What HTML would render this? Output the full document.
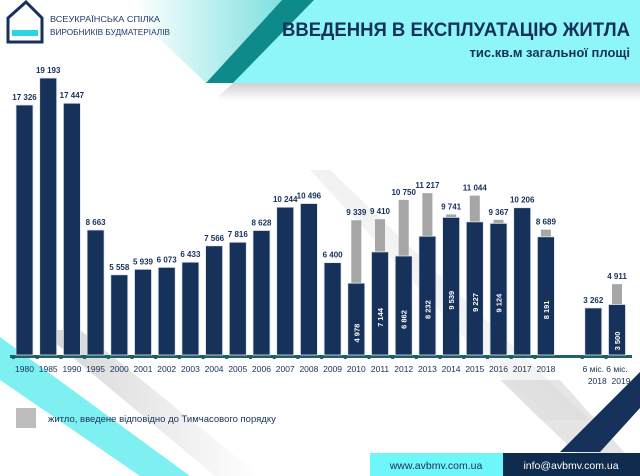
<!DOCTYPE html>
<html><head><meta charset="utf-8">
<style>
html,body{margin:0;padding:0;background:#fff;}
svg{display:block;font-family:"Liberation Sans","DejaVu Sans",sans-serif;}
</style></head><body>
<svg width="640" height="476" viewBox="0 0 640 476" xmlns="http://www.w3.org/2000/svg">
<defs>
<linearGradient id="hg" x1="0" y1="0" x2="1" y2="0">
<stop offset="0" stop-color="#ffffff"/><stop offset="1" stop-color="#7fe0e0"/></linearGradient>
<linearGradient id="sh" x1="1" y1="0" x2="0" y2="1">
<stop offset="0" stop-color="#8a8a8a" stop-opacity="0.7"/><stop offset="1" stop-color="#ffffff" stop-opacity="0"/></linearGradient>
<linearGradient id="gs" x1="0" y1="0" x2="1" y2="0">
<stop offset="0" stop-color="#cfcfcf"/><stop offset="1" stop-color="#ffffff"/></linearGradient>
<linearGradient id="hs" x1="0" y1="0" x2="0" y2="1">
<stop offset="0" stop-color="#bbbbbb"/><stop offset="1" stop-color="#ffffff"/></linearGradient>
</defs>
<!-- header shapes -->
<polygon points="135,0 282,0 206,83 150,30" fill="url(#hg)"/>
<polygon points="314,0 640,0 640,83 233,83" fill="#8ef5f8"/>
<polygon points="282,0 314,0 233,83 206,83" fill="#0f8a8a"/>
<polygon points="233,83 640,83 640,100 215,100" fill="url(#hs)" opacity="0.7"/>
<!-- diagonal shadow band through chart -->
<polygon points="310,170 330,170 590,420 540,420" fill="url(#sh)" opacity="0.6"/>
<!-- bottom left stripes -->
<polygon points="40,330 80,330 260,476 215,476" fill="url(#gs)" opacity="0.9"/>
<polygon points="0,337 0,380 140,476 190,476" fill="#7ef0f2"/>
<!-- bottom right -->
<polygon points="500,380 560,380 640,470 600,476" fill="#cccccc" opacity="0.5"/>
<polygon points="640,372 640,408 600,452 560,452" fill="#16315a"/>
<!-- logo -->
<g fill="none" stroke="#16315a" stroke-width="3">
<polygon points="8,18 26,2 42,18 42,42 8,42"/>
</g>
<rect x="12" y="30" width="26" height="6" fill="#2ad6e0"/>
<text x="50" y="22" font-size="8.5" fill="#1f3a6a" textLength="110" lengthAdjust="spacingAndGlyphs">ВСЕУКРАЇНСЬКА СПІЛКА</text>
<text x="50" y="35" font-size="8.5" fill="#1f3a6a" textLength="120" lengthAdjust="spacingAndGlyphs">ВИРОБНИКІВ БУДМАТЕРІАЛІВ</text>
<!-- title -->
<text x="630" y="36" text-anchor="end" font-size="19" font-weight="bold" fill="#16315a" textLength="348" lengthAdjust="spacingAndGlyphs">ВВЕДЕННЯ В ЕКСПЛУАТАЦІЮ ЖИТЛА</text>
<text x="630" y="57" text-anchor="end" font-size="13" font-weight="bold" fill="#16315a">тис.кв.м загальної площі</text>
<!-- axis -->
<rect x="10" y="355" width="622" height="3" fill="#1f5f66"/>
<g id="bars" font-size="8" font-weight="bold" fill="#16315a"></g>
<!-- legend -->
<rect x="16" y="408" width="20" height="20" fill="#bdbdbd"/>
<text x="48" y="422" font-size="9.5" fill="#16315a">житло, введене відповідно до Тимчасового порядку</text>
<!-- footer -->
<rect x="370" y="453" width="133" height="23" fill="#6ff6fb"/>
<rect x="503" y="453" width="137" height="23" fill="#0f2b4d"/>
<text x="436" y="469" text-anchor="middle" font-size="10.5" fill="#16315a">www.avbmv.com.ua</text>
<text x="571" y="469" text-anchor="middle" font-size="10.5" fill="#ffffff">info@avbmv.com.ua</text>
</svg>
<script>
var data=[["1980",17326],["1985",19193],["1990",17447],["1995",8663],["2000",5558],["2001",5939],["2002",6073],["2003",6433],["2004",7566],["2005",7816],["2006",8628],["2007",10244],["2008",10496],["2009",6400],["2010",4978,9339],["2011",7144,9410],["2012",6862,10750],["2013",8232,11217],["2014",9539,9741],["2015",9227,11044],["2016",9124,9367],["2017",10206],["2018",8191,8689],null,["6 міс.|2018",3262],["6 міс.|2019",3500,4911]];
var ns="http://www.w3.org/2000/svg",g=document.getElementById("bars");
function el(t,a,txt){var e=document.createElementNS(ns,t);for(var k in a)e.setAttribute(k,a[k]);if(txt!=null)e.textContent=txt;g.appendChild(e);return e;}
function fmt(n){return String(n).replace(/\B(?=(\d{3})+(?!\d))/g," ");}
var B=355,S=0.01443;
data.forEach(function(d,i){if(!d)return;var x=16+i*23.7,w=17,cx=x+w/2;
 var h=d[1]*S,top=B-h;
 if(d[2]){var t2=B-d[2]*S;el("rect",{x:cx-5,y:t2,width:10,height:top-t2+4,fill:"#a6a6a6"});}
 el("rect",{x:x,y:top,width:w,height:h,fill:"#16315a",stroke:"#dfe6ee","stroke-width":0.8});
 var lt=d[2]?B-d[2]*S:top;
 el("text",{x:cx,y:lt-5,"text-anchor":"middle"},fmt(d[2]||d[1]));
 if(d[2]){var yy=Math.min(B-14,top+h/2+14);el("text",{x:cx+3,y:yy,"text-anchor":"middle",fill:"#fff",transform:"rotate(-90 "+(cx+3)+" "+yy+")","font-size":"7.5"},fmt(d[1]));}
 el("rect",{x:x-4,y:B,width:3,height:4,fill:"#1f5f66"});
 var p=d[0].split("|");
 el("text",{x:cx,y:372,"text-anchor":"middle","font-weight":"normal","font-size":"8.5"},p[0]);
 if(p[1])el("text",{x:cx+4,y:384,"text-anchor":"middle","font-weight":"normal","font-size":"8.5"},p[1]);
});
</script>
</body></html>
